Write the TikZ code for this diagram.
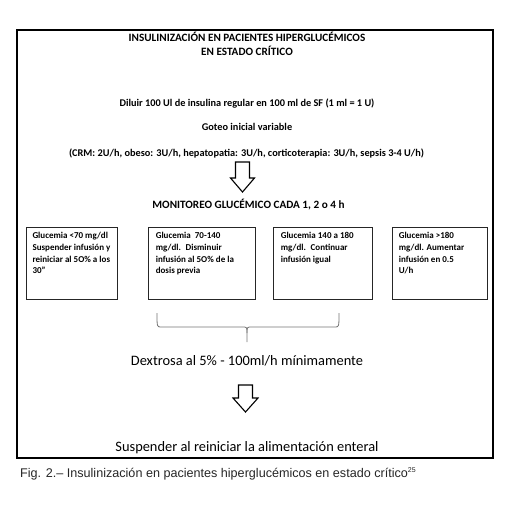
\documentclass[tikz,border=0pt]{standalone}
\usepackage{fontspec}
\setmainfont{Carlito}
\newfontfamily\capfont{Liberation Sans}
\begin{document}
\begin{tikzpicture}[x=1pt,y=-1pt,
  boxst/.style={draw=black!85, line width=0.8pt, minimum height=72pt, inner sep=0pt},
  boxtxt/.style={anchor=north west, align=left, inner sep=0pt, font=\fontsize{9}{11.7}\selectfont\bfseries},
  plain/.style={inner sep=0pt, anchor=base},
  headfont/.style={font=\fontsize{11.2}{13}\selectfont\bfseries},
  bodyfont/.style={font=\fontsize{10.3}{12}\selectfont\bfseries},
  bigfont/.style={font=\fontsize{14.4}{16}\selectfont},
  blockarrow/.style={draw=black, line width=1.1pt, fill=white, line join=miter}
]
\useasboundingbox (0,0) rectangle (513,523);
% outer frame
\node[draw=black, line width=2pt, minimum width=476pt, minimum height=428pt, inner sep=0pt] (frame) at (255,244) {};
% title
\node[plain, headfont] (t1) at (247,41) {INSULINIZACIÓN EN PACIENTES HIPERGLUCÉMICOS};
\node[plain, headfont] (t2) at (247,55.5) {EN ESTADO CRÍTICO};
\node[plain, bodyfont] (d1) at (247,106) {Diluir 100 Ul de insulina regular en 100 ml de SF (1 ml = 1 U)};
\node[plain, bodyfont] (d2) at (247,130.5) {Goteo inicial variable};
\node[plain, bodyfont] (d3) at (246.5,156) {(CRM: 2U/h, obeso: 3U/h, hepatopatia: 3U/h, corticoterapia: 3U/h, sepsis 3-4 U/h)};
% arrow 1
\draw[blockarrow] (235.5,162) -- (249.5,162) -- (249.5,178) -- (254.5,178) -- (242.5,192) -- (230.5,178) -- (235.5,178) -- cycle;
\node[plain, headfont] (mon) at (248.5,208.5) {MONITOREO GLUCÉMICO CADA 1, 2 o 4 h};
% boxes
\node[boxst, minimum width=91pt] (b1) at (71.5,263) {};
\node[boxst, minimum width=107pt] (b2) at (201.5,263) {};
\node[boxst, minimum width=99pt] (b3) at (322.5,263) {};
\node[boxst, minimum width=95pt] (b4) at (439.5,263) {};
\node[boxtxt] (x1) at ([xshift=6.7pt,yshift=-5.5pt]b1.north west) {Glucemia <70 mg/dl\\Suspender infusión y\\reiniciar al 5O\% a los\\30"};
\node[boxtxt] (x2) at ([xshift=8pt,yshift=-5.5pt]b2.north west) {Glucemia~ 70-140\\mg/dl.~ Disminuir\\infusión al 5O\% de la\\dosis previa};
\node[boxtxt] (x3) at ([xshift=8pt,yshift=-5.5pt]b3.north west) {Glucemia 140 a 180\\mg/dl.~ Continuar\\infusión igual};
\node[boxtxt] (x4) at ([xshift=7pt,yshift=-5.5pt]b4.north west) {Glucemia >180\\mg/dl. Aumentar\\infusión en 0.5\\U/h};
% brace
\coordinate (bl) at (157,313);
\coordinate (br) at (339,313);
\coordinate (bm) at (247,342);
\draw[black!55, line width=0.8pt] (bl) .. controls (157,327) .. (161,327) -- (242,327) .. controls (247,327) .. (247,333) -- (bm);
\draw[black!55, line width=0.8pt] (br) .. controls (339,327) .. (335,327) -- (252,327) .. controls (247,327) .. (247,333);
\node[plain, bigfont] (dex) at (247,365) {Dextrosa al 5\% - 100ml/h mínimamente};
% arrow 2
\draw[blockarrow] (238.5,385) -- (252.5,385) -- (252.5,398) -- (258,398) -- (245.5,412) -- (233,398) -- (238.5,398) -- cycle;
\node[plain, bigfont] (sus) at (247,451) {Suspender al reiniciar la alimentación enteral};
% caption
\node[anchor=base west, inner sep=0pt, font=\capfont\fontsize{12.6}{14}\selectfont, text=black!85] (cap) at (20,477) {Fig. 2.– Insulinización en pacientes hiperglucémicos en estado crítico\textsuperscript{\fontsize{7}{8}\selectfont 25}};
\end{tikzpicture}
\end{document}
